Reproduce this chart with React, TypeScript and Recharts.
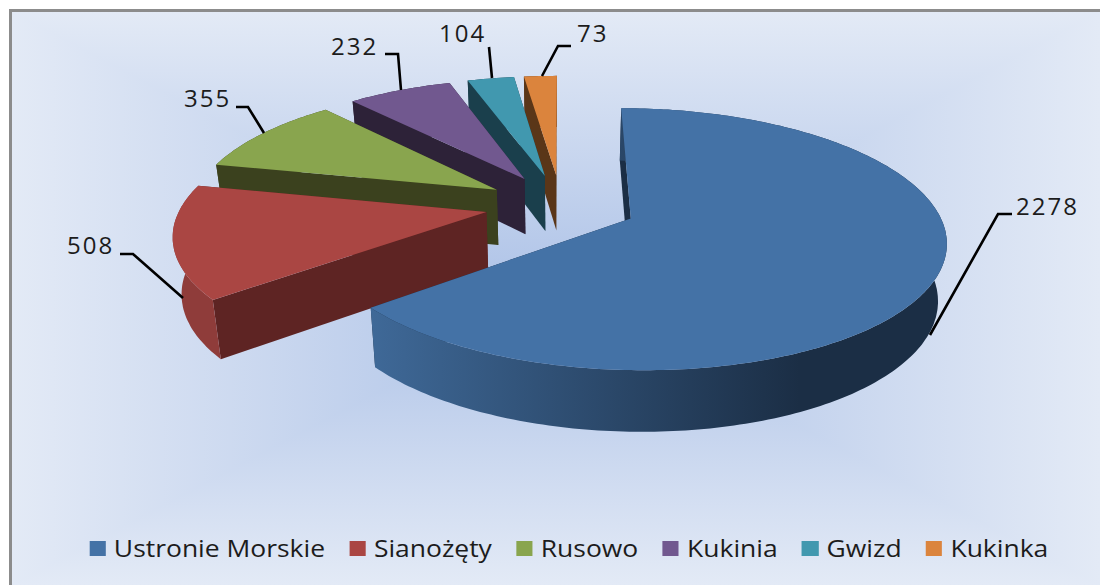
import { PieChart, Pie, Legend } from "recharts";

const categories = ["Ustronie Morskie", "Sianożęty", "Rusowo", "Kukinia", "Gwizd", "Kukinka"];
const seriesValues = [2278, 508, 355, 232, 104, 73];
const topColors = ["#4472a6", "#aa4643", "#89a54e", "#71588f", "#4198af", "#db843d"];
const wallColors = ["#1b2e45", "#5e2423", "#3b411e", "#2d2238", "#1a3f4c", "#5a3618"];
const rimColors = ["#3f6998", "#8f3c3a", "#3b411e", "#2d2238", "#1a3f4c", "#5a3618"];

// leader line points and label text spot per slice, pixels on the page
const leaders: Record<string, { line: string; x: number; y: number }> = {
  "Ustronie Morskie": { line: "930,335 998,214 1012,214", x: 1016, y: 215 },
  "Sianożęty": { line: "183,298 133,254 120,254", x: 67, y: 254 },
  Rusowo: { line: "264,133 248,107 236,107", x: 184, y: 107 },
  Kukinia: { line: "401,90 398,54 385,54", x: 331, y: 55 },
  Gwizd: { line: "492,78 489,47", x: 439, y: 42 },
  Kukinka: { line: "542,76 558,46 571,46", x: 577, y: 42 },
};

// painted back to front, so the big slice comes last
const tableData = categories
  .map((name, i) => ({ name, value: seriesValues[i], fill: topColors[i] }))
  .reverse();

const FONT = "'Open Sans', sans-serif";
const RAD = Math.PI / 180;
const TILT = 0.405;
const PERSPECTIVE = 0.00051;
const DEPTH = 56;
const BOTTOM_SCALE = 0.977;
const EXPLODE = 76;
const LEGEND_STRETCH = 1.15;

function project(cx: number, cy: number, X: number, Y: number, lower = false) {
  const w = 1 / (1 - PERSPECTIVE * Y);
  const px = X * w * (lower ? BOTTOM_SCALE : 1);
  const py = TILT * Y * w + (lower ? DEPTH * Math.sqrt(w) : 0);
  return `${(cx + px).toFixed(1)},${(cy + py).toFixed(1)}`;
}

function Slice3D(props: any) {
  const { cx, cy, outerRadius, startAngle, endAngle, name, fill } = props;
  const i = categories.indexOf(name);
  const mid = ((startAngle + endAngle) / 2) * RAD;
  const ox = Math.cos(mid) * EXPLODE;
  const oy = -Math.sin(mid) * EXPLODE;

  const rimAt = (deg: number, lower: boolean) =>
    project(cx, cy, ox + outerRadius * Math.cos(deg * RAD), oy - outerRadius * Math.sin(deg * RAD), lower);
  const angles: number[] = [];
  for (let a = startAngle; a < endAngle; a += 1) angles.push(a);
  angles.push(endAngle);

  const apexTop = project(cx, cy, ox, oy);
  const apexLow = project(cx, cy, ox, oy, true);
  const topArc = angles.map((a) => rimAt(a, false));
  const lowArc = angles.map((a) => rimAt(a, true)).reverse();
  const gradId = `rim-${i}`;

  return (
    <g>
      <defs>
        <linearGradient id={gradId} gradientUnits="userSpaceOnUse" x1={200} y1={0} x2={800} y2={0}>
          <stop offset="0.28" stopColor={rimColors[i]} />
          <stop offset="1" stopColor={wallColors[i]} />
        </linearGradient>
      </defs>
      <polygon points={[apexTop, topArc[0], lowArc[lowArc.length - 1], apexLow].join(" ")} fill={wallColors[i]} />
      <polygon
        points={[apexTop, topArc[topArc.length - 1], lowArc[0], apexLow].join(" ")}
        fill={wallColors[i]}
      />
      <polygon points={[...topArc, ...lowArc].join(" ")} fill={`url(#${gradId})`} />
      <polygon points={[apexTop, ...topArc].join(" ")} fill={fill} />
    </g>
  );
}

function LeaderLabel(props: any) {
  const spot = leaders[props.name];
  return (
    <g>
      <polyline points={spot.line} fill="none" stroke="#000" strokeWidth={2.6} />
      <text x={spot.x} y={spot.y} fontFamily={FONT} fontSize={24} letterSpacing={2} fill="#1c1c1c">
        {props.value}
      </text>
    </g>
  );
}

function LegendRow({ payload }: any) {
  const items = categories.map((c) => (payload || []).find((p: any) => p.value === c)).filter(Boolean);
  return (
    <div
      style={{
        display: "flex",
        alignItems: "center",
        width: 1000,
        paddingLeft: 77.5,
        fontFamily: FONT,
        fontSize: 23,
        color: "#1c1c1c",
        whiteSpace: "nowrap",
        transform: `scaleX(${LEGEND_STRETCH})`,
        transformOrigin: "0 0",
      }}
    >
      {items.map((p: any) => (
        <div key={p.value} style={{ display: "flex", alignItems: "center", marginRight: 21 }}>
          <span style={{ width: 14.5, height: 15, background: p.color, marginRight: 7 }} />
          <span>{p.value}</span>
        </div>
      ))}
    </div>
  );
}

export default function App() {
  return (
    <div
      style={{
        position: "absolute",
        left: 0,
        top: 0,
        width: 1100,
        height: 585,
        background: "#fff",
        overflow: "hidden",
      }}
    >
      <div
        style={{
          position: "absolute",
          left: 9,
          top: 9,
          width: 1091,
          height: 576,
          boxSizing: "border-box",
          borderLeft: "3px solid #8c8c8c",
          borderTop: "3px solid #8c8c8c",
          backgroundImage:
            "linear-gradient(90deg, #e3eaf6 0%, #adc2e7 50%, #e3eaf6 100%), linear-gradient(180deg, #e3eaf6 0%, #adc2e7 50%, #e3eaf6 100%)",
          backgroundBlendMode: "lighten",
        }}
      />
      <div style={{ position: "absolute", left: 0, top: 0 }}>
        <PieChart width={1100} height={585} margin={{ top: 0, right: 0, bottom: 0, left: 0 }}>
          <Pie
            data={tableData}
            dataKey="value"
            nameKey="name"
            cx={561}
            cy={205}
            innerRadius={0}
            outerRadius={305}
            startAngle={90}
            endAngle={450}
            stroke="none"
            shape={Slice3D}
            label={LeaderLabel}
            labelLine={false}
            isAnimationActive={false}
          />
          <Legend content={LegendRow} wrapperStyle={{ left: 0, top: 532, width: 1100, bottom: "auto" }} />
        </PieChart>
      </div>
    </div>
  );
}
